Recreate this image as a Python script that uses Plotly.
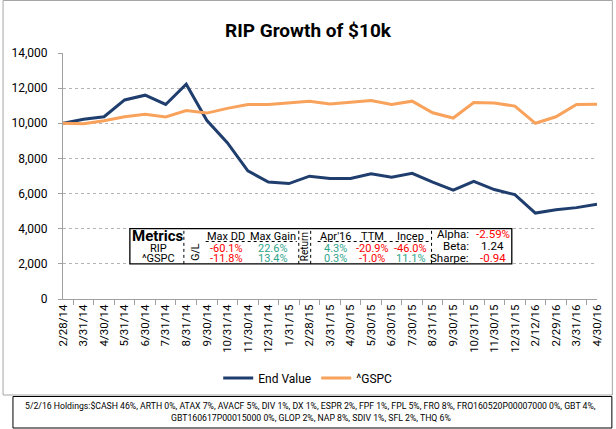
import plotly.graph_objects as go

# ---------------- data ----------------
dates = ["2/28/14", "3/31/14", "4/30/14", "5/31/14", "6/30/14", "7/31/14", "8/31/14",
         "9/30/14", "10/31/14", "11/30/14", "12/31/14", "1/31/15", "2/28/15", "3/31/15",
         "4/30/15", "5/30/15", "6/30/15", "7/30/15", "8/31/15", "9/30/15", "10/31/15",
         "11/30/15", "12/31/15", "2/12/16", "2/29/16", "3/31/16", "4/30/16"]
end_value = [10000, 10230, 10370, 11330, 11600, 11070, 12220, 10170, 8900, 7290, 6660,
             6570, 6990, 6860, 6860, 7120, 6930, 7150, 6650, 6190, 6700, 6230, 5940,
             4890, 5080, 5200, 5400]
gspc = [10000, 9970, 10150, 10370, 10510, 10360, 10730, 10580, 10850, 11070, 11070,
        11150, 11260, 11100, 11180, 11300, 11070, 11260, 10600, 10300, 11180, 11150,
        10980, 10000, 10370, 11070, 11090]

metric_names = ["RIP", "^GSPC"]
max_dd = ["-60.1%", "-11.8%"]
max_gain = ["22.6%", "13.4%"]
ret_apr16 = ["4.3%", "0.3%"]
ret_ttm = ["-20.9%", "-1.0%"]
ret_incep = ["-46.0%", "11.1%"]
stat_labels = ["Alpha:", "Beta:", "Sharpe:"]
stat_values = ["-2.59%", "1.24", "-0.94"]

holdings_line1 = ("5/2/16 Holdings:$CASH 46%, ARTH 0%, ATAX 7%, AVACF 5%, DIV 1%, DX 1%, "
                  "ESPR 2%, FPF 1%, FPL 5%, FRO 8%, FRO160520P00007000 0%, GBT 4%,")
holdings_line2 = "GBT160617P00015000 0%, GLOP 2%, NAP 8%, SDIV 1%, SFL 2%, THQ 6%"

# ---------------- layout helpers ----------------
W, H = 616, 429
L, R, T, B = 61, 16, 53, 130
PW = W - L - R
PH = H - T - B
FONT = "Roboto"
RED = "#FF0000"
POS = "#2FA58C"


def px(x):
    return (x - L) / PW


def py(y):
    return (H - B - y) / PH


def col(v):
    return RED if v.startswith("-") else POS


fig = go.Figure()
fig.add_trace(go.Scatter(x=dates, y=end_value, mode="lines", name="End Value",
                         line=dict(color="#1F3E6E", width=3)))
fig.add_trace(go.Scatter(x=dates, y=gspc, mode="lines", name="^GSPC",
                         line=dict(color="#F8A25C", width=3)))

shapes = []
ann = []

# outer chart border
shapes.append(dict(type="rect", xref="paper", yref="paper", x0=px(0.5), x1=px(615.5),
                   y0=py(395), y1=py(0.5), line=dict(color="#A6A6A6", width=1)))
# holdings box
shapes.append(dict(type="rect", xref="paper", yref="paper", x0=px(10.5), x1=px(615),
                   y0=py(428), y1=py(396.5), line=dict(color="black", width=1)))
# metrics table box
shapes.append(dict(type="rect", xref="paper", yref="y", x0=px(128.5), x1=px(514),
                   y0=2000, y1=4000, fillcolor="white", line=dict(color="black", width=1.3)))
for xv in [183, 299, 311, 433]:
    shapes.append(dict(type="line", xref="paper", yref="y", x0=px(xv), x1=px(xv),
                       y0=2000, y1=4000, line=dict(color="black", width=1, dash="dot")))
for x0, x1 in [(205, 297), (318, 433)]:
    shapes.append(dict(type="line", xref="paper", yref="paper", x0=px(x0), x1=px(x1),
                       y0=py(241.5), y1=py(241.5), line=dict(color="black", width=1, dash="dot")))


def t(text, x, y, size=11, color="black", xanchor="center", bold=False, angle=0):
    ann.append(dict(text=("<b>%s</b>" % text) if bold else text, x=px(x), y=py(y),
                    xref="paper", yref="paper", showarrow=False, xanchor=xanchor,
                    yanchor="middle", textangle=angle,
                    font=dict(family=FONT, size=size, color=color)))


t("Metrics", 157, 236.5, size=15, bold=True)
t("G/L", 194, 252, size=10.5, angle=-90)
t("Return", 305, 246.5, size=10, angle=-90)
t("Max DD", 226, 236.5)
t("Max Gain", 273, 236.5)
t("Apr'16", 336, 236.5)
t("TTM", 373, 236.5)
t("Incep", 412, 236.5)
for i, yy in enumerate([248.3, 258.3]):
    t(metric_names[i], 157, yy)
    t(max_dd[i], 226, yy, color=col(max_dd[i]))
    t(max_gain[i], 273, yy, color=col(max_gain[i]))
    t(ret_apr16[i], 336, yy, color=col(ret_apr16[i]))
    t(ret_ttm[i], 373, yy, color=col(ret_ttm[i]))
    t(ret_incep[i], 412, yy, color=col(ret_incep[i]))
for i, yy in enumerate([233.5, 245.5, 257.5]):
    t(stat_labels[i], 473, yy, size=11.5, xanchor="right")
    v = stat_values[i]
    t(v, 495, yy, size=11.5, color=RED if v.startswith("-") else "black")

t(holdings_line1, 311, 406, size=8.7)
t(holdings_line2, 311, 418, size=8.7)

fig.update_layout(
    width=W, height=H,
    margin=dict(l=L, r=R, t=T, b=B),
    paper_bgcolor="white", plot_bgcolor="white",
    font=dict(family=FONT, size=11, color="black"),
    title=dict(text="<b>RIP Growth of $10k</b>", x=308 / W, xanchor="center",
               y=1 - 30 / H, yanchor="middle", yref="container",
               font=dict(family=FONT, size=19, color="black")),
    showlegend=True,
    legend=dict(orientation="h", x=px(308), xanchor="center", y=py(378), yanchor="middle",
                font=dict(family=FONT, size=12), itemwidth=30, bgcolor="rgba(0,0,0,0)"),
    shapes=shapes,
    annotations=ann,
)
fig.update_xaxes(type="category", tickangle=-90, showgrid=False, showline=True,
                 linecolor="#A0A0A0", ticks="outside", tickson="boundaries", ticklen=5,
                 tickcolor="#A0A0A0", tickfont=dict(size=11.5, family=FONT), fixedrange=True)
fig.update_yaxes(range=[0, 14000], dtick=2000, tickformat=",", showgrid=True,
                 gridcolor="#B4B4B4", gridwidth=1, griddash="dot", zeroline=False,
                 showline=True, linecolor="#A0A0A0", ticks="outside", ticklen=4,
                 tickcolor="#A0A0A0", ticklabelstandoff=8,
                 tickfont=dict(size=12, family=FONT))

fig.write_html("out.html", config={"displayModeBar": False},
               post_script="document.body.style.margin='0';document.body.style.overflow='hidden';")
